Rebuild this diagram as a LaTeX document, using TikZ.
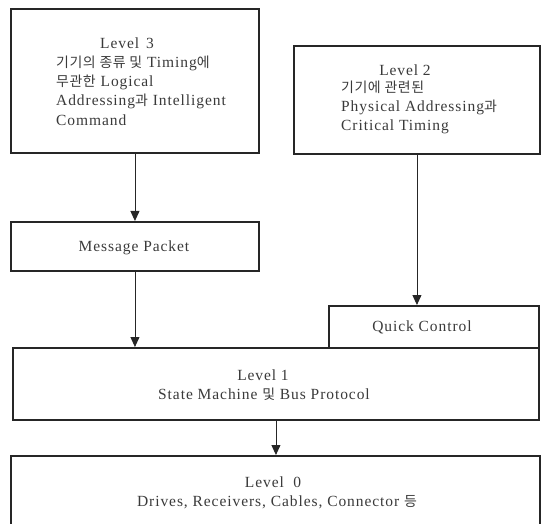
\documentclass[tikz,border=0pt]{standalone}
\usepackage{fontspec}
\setmainfont{Liberation Serif}[LetterSpace=6]
\newfontfamily\kr{Noto Sans CJK KR}[Scale=0.9,LetterSpace=4]
\usetikzlibrary{arrows.meta}
\definecolor{ink}{HTML}{262626}
\definecolor{txt}{HTML}{3A3A3A}
\tikzset{
  box/.style={draw=ink, line width=1.9pt, inner sep=0pt, anchor=north west},
  lbl/.style={text=txt, inner sep=0pt, font=\fontsize{15.5}{19.3}\selectfont},
  conn/.style={draw=ink, line width=0.9pt, -{Triangle[length=10pt,width=9pt]}}
}
\begin{document}
\begin{tikzpicture}[x=1pt,y=-1pt]
\useasboundingbox (0,0) rectangle (544,524);
% boxes
\node[box, minimum width=248pt, minimum height=144pt] (L3) at (10,8) {};
\node[box, minimum width=246pt, minimum height=108pt] (L2) at (293,45) {};
\node[box, minimum width=248pt, minimum height=49pt] (MP) at (10,221) {};
\node[box, minimum width=210pt, minimum height=42pt] (QC) at (328,305) {};
\node[box, minimum width=526pt, minimum height=72pt] (L1) at (12,347) {};
\node[box, minimum width=529pt, minimum height=80pt] (L0) at (10,455) {};
% texts
\node[lbl] (t3a) at (127,43) {Level\hspace{0.45em}3};
\node[lbl, align=left, anchor=west] (t3b) at (56,90.5) {{\kr 기기의 종류 및} Timing{\kr 에}\\{\kr 무관한} Logical\\Addressing{\kr 과} Intelligent\\Command};
\node[lbl] (t2a) at (405,70) {Level\hspace{0.3em}2};
\node[lbl, align=left, anchor=west] (t2b) at (341,107.5) {{\kr 기기에 관련된}\\Physical Addressing{\kr 과}\\Critical Timing};
\node[lbl] (tmp) at (134,248) {Message Packet};
\node[lbl] (tqc) at (422,327) {Quick Control};
\node[lbl] (t1a) at (263,375) {Level\hspace{0.3em}1};
\node[lbl] (t1b) at (264,394) {State Machine {\kr 및} Bus Protocol};
\node[lbl] (t0a) at (273,482) {Level\hspace{0.6em}0};
\node[lbl] (t0b) at (277,502) {Drives, Receivers, Cables, Connector {\kr 등}};
% connectors
\draw[conn] (L3.south) -- (MP.north);
\draw[conn] (MP.south) -- (MP.south |- L1.north);
\draw[conn] (L2.south) -- (L2.south |- QC.north);
\draw[conn] (L1.south) -- (L1.south |- L0.north);
\end{tikzpicture}
\end{document}
